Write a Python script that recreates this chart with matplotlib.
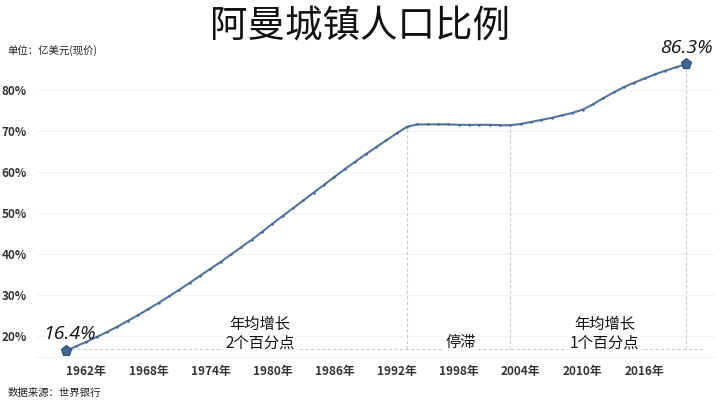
import matplotlib
matplotlib.use('Agg')
import matplotlib.pyplot as plt

plt.rcParams['font.family'] = ['Noto Sans CJK SC', 'DejaVu Sans']

years = list(range(1960, 2021))
urban_pct = [16.4, 17.5, 18.6, 19.8, 21.0, 22.3, 23.7, 25.1, 26.6, 28.1,
             29.7, 31.3, 33.0, 34.7, 36.4, 38.1, 39.9, 41.7, 43.5, 45.4,
             47.4, 49.3, 51.2, 53.1, 55.0, 56.9, 58.8, 60.7, 62.5, 64.3,
             66.0, 67.7, 69.4, 71.0, 71.6, 71.6, 71.6, 71.6, 71.5, 71.5,
             71.5, 71.5, 71.4, 71.4, 71.7, 72.2, 72.7, 73.2, 73.8, 74.4,
             75.2, 76.5, 78.0, 79.4, 80.7, 81.8, 82.8, 83.8, 84.7, 85.5,
             86.3]
tick_years = list(range(1962, 2017, 6))
tick_labels = [f'{y}年' for y in tick_years]
y_ticks = [20, 30, 40, 50, 60, 70, 80]
phase_ends = [1993, 2003, 2020]
phase_texts = ['年均增长\n2个百分点', '停滞', '年均增长\n1个百分点']
phase_text_x = [1978.8, 1998.2, 2012.1]

line_c = '#52759f'
dash_c = '#c4ccd4'
base_y = 16.8

fig = plt.figure(figsize=(7.2, 4.05), dpi=100)
ax = fig.add_axes([0.051, 0.1185, 0.942, 0.7455])

ax.plot(years, urban_pct, color=line_c, lw=1.5, marker='o', ms=0.8,
        mfc='#46688f', mec='#46688f', zorder=3)
ax.plot([years[0], years[-1]], [urban_pct[0], urban_pct[-1]], ls='none',
        marker='p', ms=8, mfc='#3f6794', mec='#2e4f75', mew=0.8, zorder=4)

# brackets
ax.plot([1960, 2021.5], [base_y, base_y], color=dash_c, lw=0.8, ls=(0, (3, 2)), zorder=1)
for yr in phase_ends:
    v = urban_pct[years.index(yr)]
    ax.plot([yr, yr], [base_y, v], color=dash_c, lw=0.8, ls=(0, (3, 2)), zorder=1)

for x, t in zip(phase_text_x, phase_texts):
    ax.text(x, base_y - 0.5, t, ha='center', va='bottom', fontsize=11,
            color='#111111', linespacing=1.1,
            bbox=dict(facecolor='white', edgecolor='none', pad=1.5), zorder=2)

ax.text(1960.4, 18.3, '16.4%', ha='center', va='bottom', fontsize=14,
        family='Open Sans', style='italic', color='#111111')
ax.text(2020, 88.0, '86.3%', ha='center', va='bottom', fontsize=14,
        family='Open Sans', style='italic', color='#111111')

ax.set_xlim(1957.2, 2022.8)
ax.set_ylim(14.9, 88.5)
ax.set_xticks(tick_years)
ax.set_xticklabels(tick_labels, fontsize=8.5, fontweight='bold', color='#333333')
ax.set_yticks(y_ticks)
ax.set_yticklabels([f'{v}%' for v in y_ticks], fontsize=8.5, fontweight='bold', color='#333333')
ax.tick_params(length=0, pad=6)
ax.tick_params(axis='y', pad=7)
ax.grid(axis='y', color='#f2f2f2', lw=0.8)
for s in ['top', 'right', 'left']:
    ax.spines[s].set_visible(False)
ax.spines['bottom'].set_color('#f0f0f0')
ax.set_axisbelow(True)

fig.text(0.5, 0.933, '阿曼城镇人口比例', ha='center', va='center', fontsize=27, color='#111111')
fig.text(0.01, 0.876, '单位：亿美元(现价)', ha='left', va='center', fontsize=7.5, color='#222222')
fig.text(0.01, 0.03, '数据来源：世界银行', ha='left', va='center', fontsize=7.5, color='#222222')

fig.savefig('out.png', dpi=100)
